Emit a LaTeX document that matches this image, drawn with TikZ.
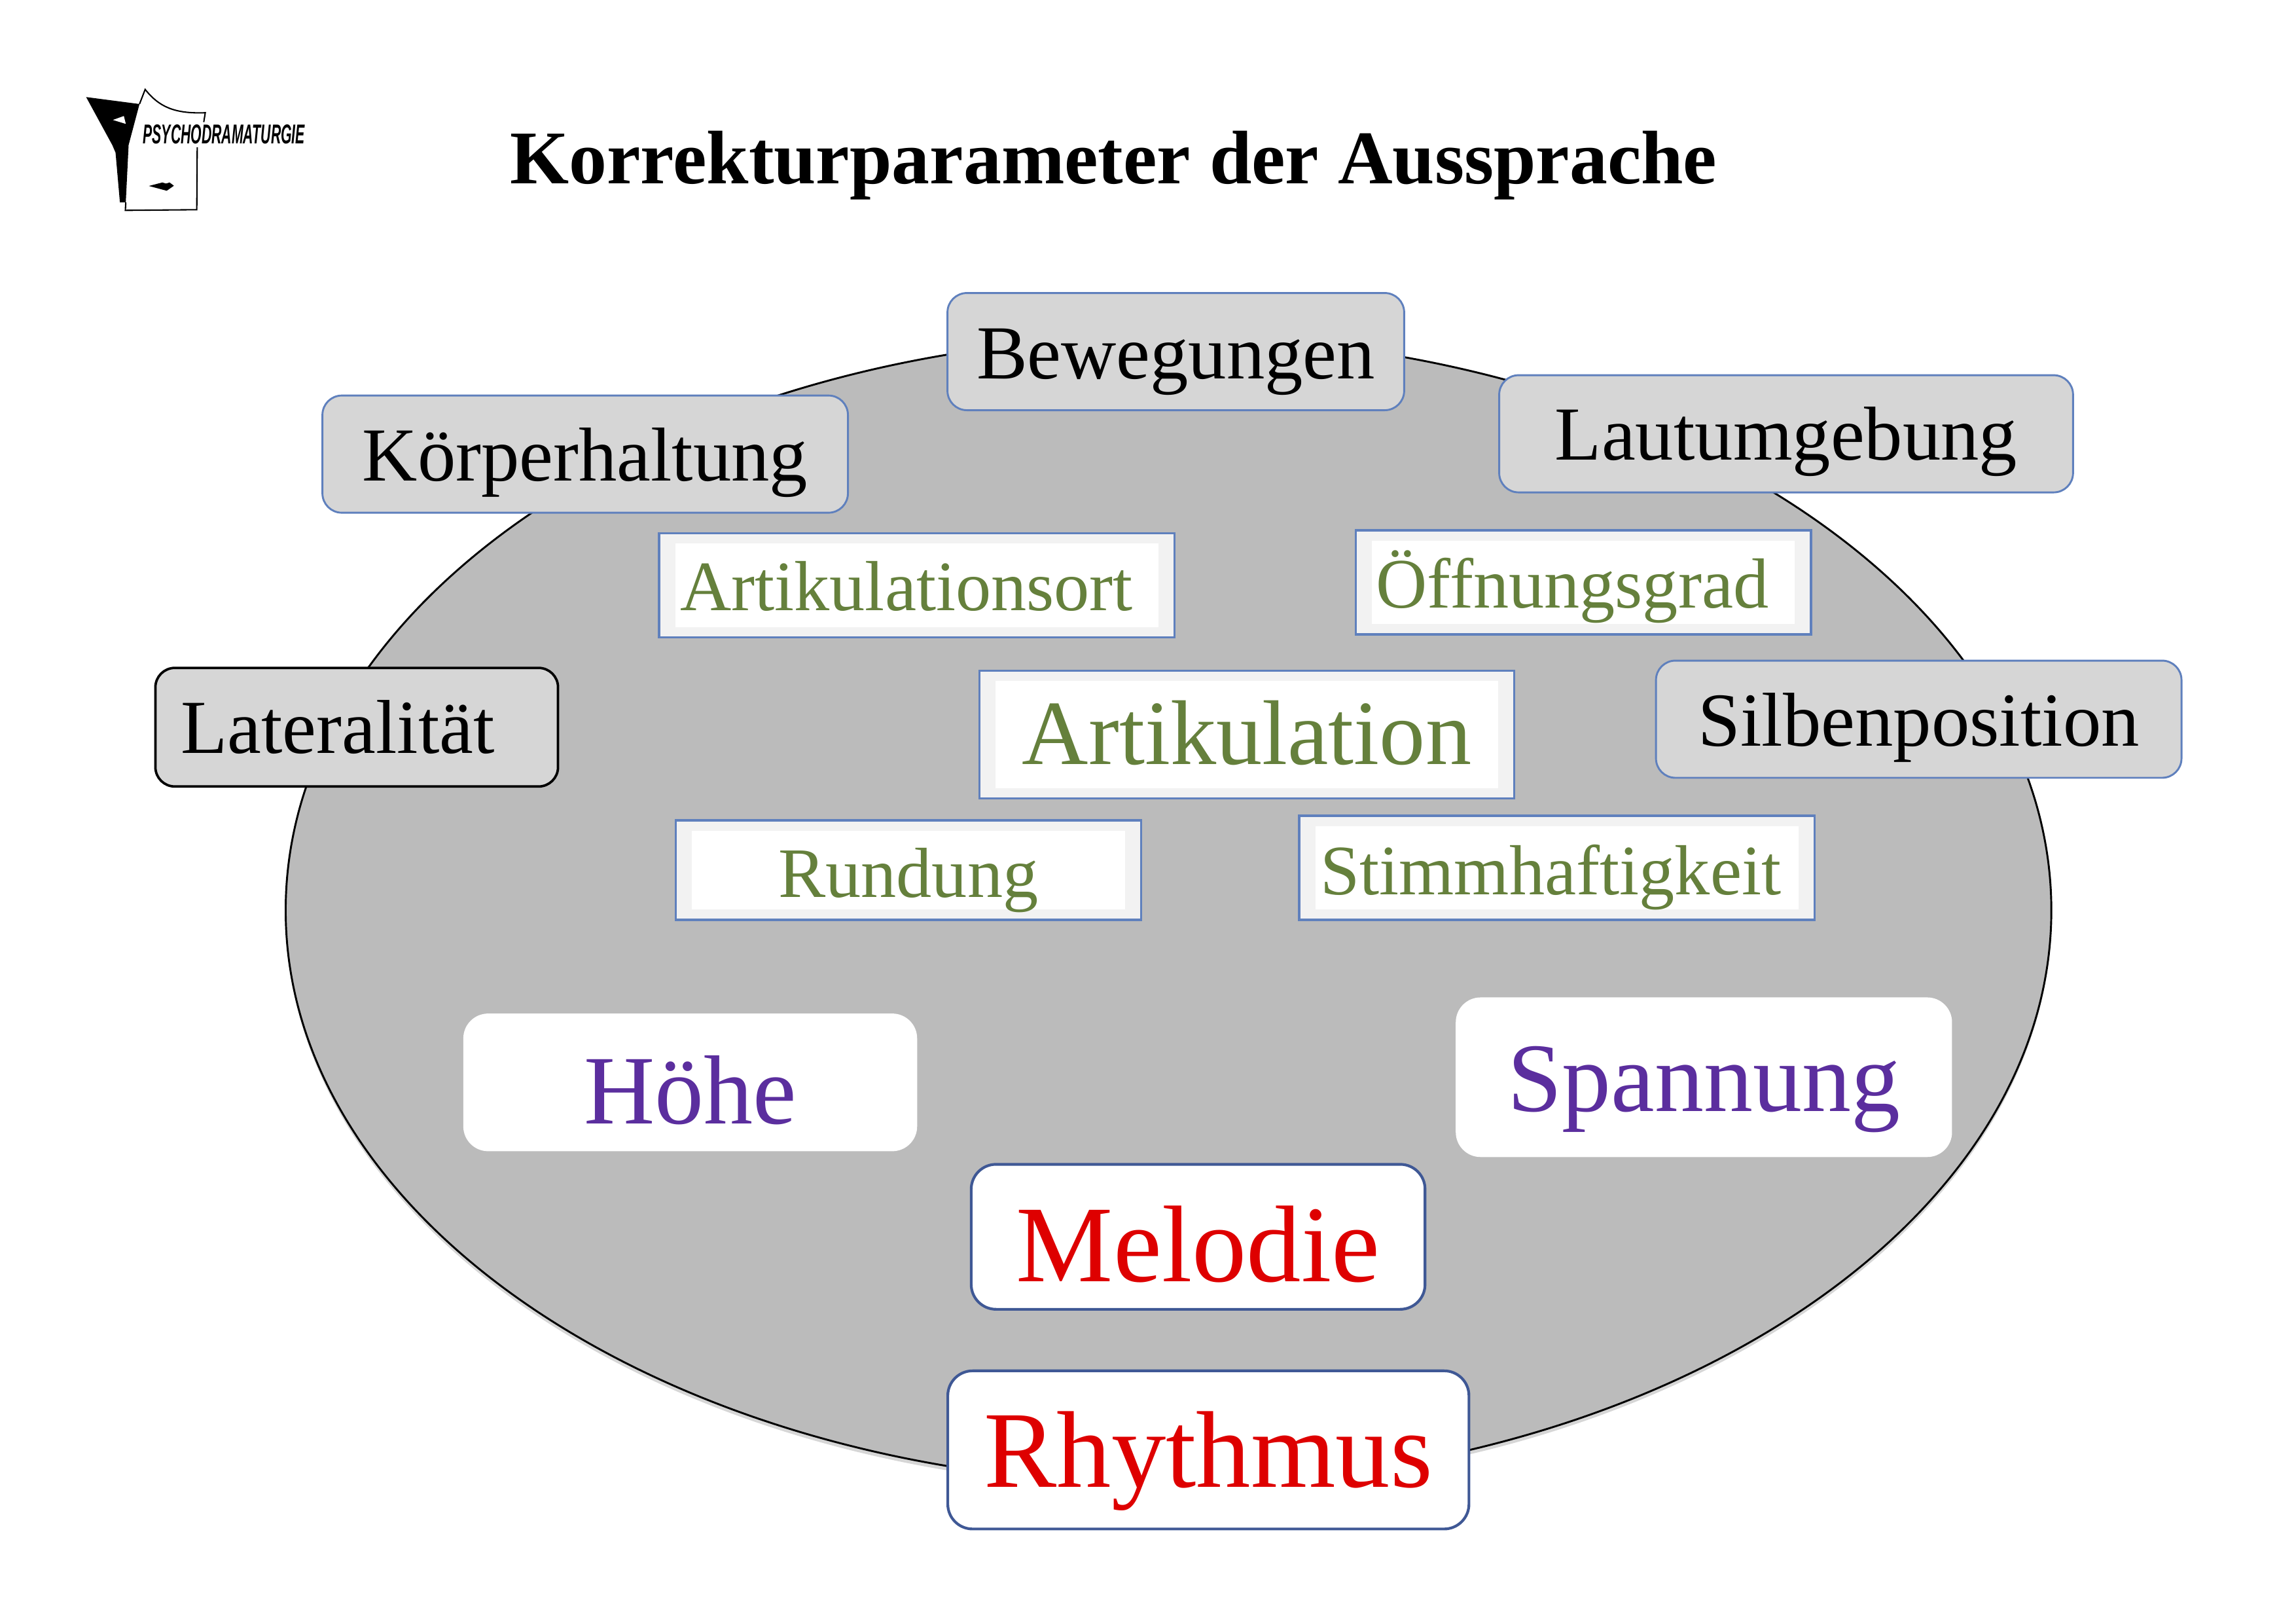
\documentclass[tikz,border=0pt]{standalone}
\usepackage{xcolor}
\usepackage{fontspec}
\setmainfont{Liberation Serif}
\newfontfamily\logofont{Liberation Sans}
\usepackage{tikz}
\usetikzlibrary{shapes.geometric,positioning,shadows}
\definecolor{discgray}{RGB}{187,187,187}
\definecolor{discshade}{RGB}{214,214,214}
\definecolor{boxgray}{RGB}{214,214,214}
\definecolor{framegray}{RGB}{242,242,242}
\definecolor{lineblue}{RGB}{95,128,189}
\definecolor{deepblue}{RGB}{63,88,149}
\definecolor{artgreen}{RGB}{101,128,60}
\definecolor{softviolet}{RGB}{91,46,158}
\definecolor{signalred}{RGB}{222,0,0}
\tikzset{
  base/.style   ={rectangle, outer sep=0pt, inner sep=0pt, align=center,
                  text height=21.8pt, text depth=2pt},
  gbox/.style   ={base, rounded corners=0.25cm, draw=lineblue, line width=0.7pt, fill=boxgray,
                  text=black, font=\fontsize{28}{30}\selectfont},
  framed/.style ={base, draw=lineblue, line width=0.8pt, fill=framegray, text=artgreen,
                  font=\fontsize{26}{28}\selectfont,
                  path picture={\fill[white]
                    ([xshift=0.208cm,yshift=-0.132cm]path picture bounding box.north west)
                    rectangle
                    ([xshift=-0.208cm,yshift=0.132cm]path picture bounding box.south east);}},
  wbox/.style   ={base, rounded corners=0.32cm, fill=white, text=softviolet,
                  font=\fontsize{36}{38}\selectfont},
  rbox/.style   ={wbox, draw=deepblue, line width=1pt, text=signalred,
                  font=\fontsize{40}{42}\selectfont},
  disc/.style   ={ellipse, draw=black, line width=0.7pt, fill=discgray, inner sep=0pt,
                  outer sep=0pt, minimum width=22.76cm, minimum height=14.79cm,
                  general shadow={shadow xshift=0pt, shadow yshift=-1.6pt, fill=discshade}}
}
\begin{document}
\begin{tikzpicture}[x=0.01887cm, y=-0.01887cm]
\useasboundingbox (0,0) rectangle (1568,1108);
\node[disc] (oval) at (798,621.5) {};
\node[font=\fontsize{27.8}{30}\selectfont\bfseries] (title) at (760.5,113) {Korrekturparameter der Aussprache};

% logo
\begin{scope}[shift={(44.7,44.7)}, x=0.002812cm, y=-0.002812cm]
\fill[black] (95,145) -- (340,177) -- (290,365) -- (277,628) -- (250,628) -- (230,400)
  -- (215,365) -- cycle;
\fill[white] (218,250) -- (268,232) -- (277,268) -- cycle;
\draw[line width=0.5pt] (340,177) -- (366,110) .. controls (430,190) and (500,222) .. (642,217) -- (635,260);
\draw[line width=0.5pt] (605,375) -- (603,662) -- (275,665) -- (277,628);
\fill[black] (383,553) -- (445,537) -- (462,542) -- (478,537) -- (498,552) -- (465,575) -- cycle;
\node[font=\logofont\bfseries\itshape\fontsize{10}{10}\selectfont, xscale=0.51, transform shape, inner sep=0pt] (logotext) at (728,315) {PSYCHODRAMATURGIE};
\end{scope}

\node[framed, font=\fontsize{33.7}{36}\selectfont, text height=24pt, minimum width=6.888cm, minimum height=1.642cm] (art) at (851.5,501.5) {Artikulation};
\node[framed, text height=20.8pt, above left=0.434cm and -2.51cm of art, minimum width=6.642cm, minimum height=1.34cm] (ort) {Artikulationsort\kern7.5pt};
\node[framed, text height=20.8pt, above right=0.47cm and -2.04cm of art, minimum width=5.869cm, minimum height=1.34cm] (oeffnung) {Öffnungsgrad\kern8pt};
\node[framed, below left=0.283cm and -2.08cm of art, minimum width=6.0cm, minimum height=1.283cm] (rundung) {Rundung};
\node[framed, below right=0.226cm and -2.77cm of art, minimum width=6.642cm, minimum height=1.34cm] (stimme) {Stimmhaftigkeit\kern4.5pt};

\node[gbox, above right=1.585cm and -2.925cm of ort, minimum width=5.887cm, minimum height=1.51cm] (bewegung) {Bewegungen};
\node[gbox, above left=0.264cm and -2.434cm of ort, minimum width=6.774cm, minimum height=1.51cm] (koerper) {Körperhaltung};
\node[gbox, text height=21.3pt, above right=0.49cm and -4.02cm of oeffnung, minimum width=7.397cm, minimum height=1.51cm] (laut) {Lautumgebung};
\node[gbox, above right=-1.378cm and 1.83cm of art, minimum width=6.774cm, minimum height=1.51cm] (silbe) {Silbenposition};
\node[gbox, draw=black, line width=0.9pt, text height=21.3pt, above left=-1.49cm and 5.435cm of art, minimum width=5.19cm, minimum height=1.528cm] (lateral) {Lateralität\kern14pt};

\node[wbox, text height=32.6pt, below left=1.208cm and -3.114cm of rundung, minimum width=5.85cm, minimum height=1.774cm] (hoehe) {Höhe};
\node[wbox, text height=27.2pt, below right=1.0cm and -4.623cm of stimme, minimum width=6.397cm, minimum height=2.057cm] (spannung) {Spannung};
\node[rbox, text height=34.8pt, below right=3.151cm and -2.189cm of rundung, minimum width=5.85cm, minimum height=1.868cm] (melodie) {Melodie};
\node[rbox, text height=29.4pt, below right=0.793cm and -6.152cm of melodie, minimum width=6.718cm, minimum height=2.038cm] (rhythmus) {Rhythmus};
\end{tikzpicture}
\end{document}
